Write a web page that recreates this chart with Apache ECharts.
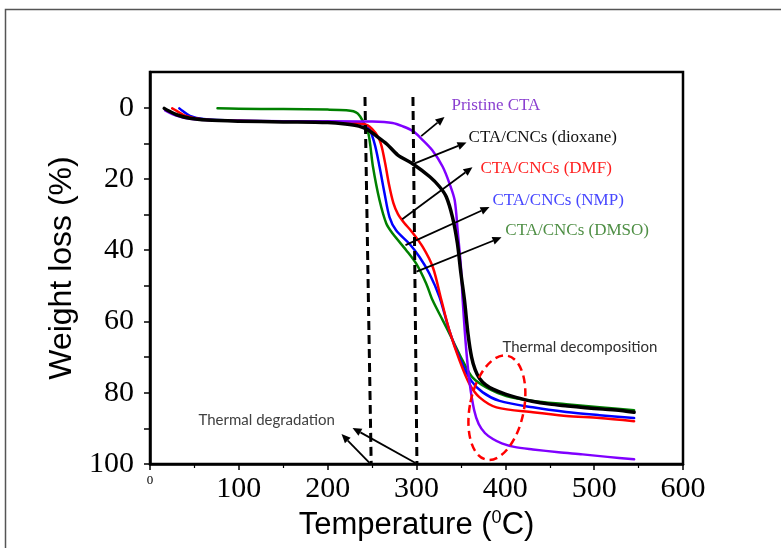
<!DOCTYPE html>
<html><head><meta charset="utf-8">
<script src="https://cdn.jsdelivr.net/npm/echarts@6/dist/echarts.min.js"></script>
<style>html,body{margin:0;padding:0;background:#fff}#c{width:781px;height:548px}</style>
</head><body><div id="c"></div>
<script>
// ---- data (temperature in °C, weight loss in %) ----
const xTickValues = [0, 100, 200, 300, 400, 500, 600];
const yTickValues = [0, 20, 40, 60, 80, 100];

const pristineT = [17, 25, 40, 63, 100, 150, 200, 250, 273, 285, 296, 305, 318, 329.5, 337, 343, 346.5, 350, 352, 356, 360, 365, 370, 377, 386, 396, 410, 431, 460, 487, 515, 545];
const pristineW = [0.8, 1.8, 2.9, 3.5, 3.7, 3.8, 3.8, 3.9, 4.3, 5.3, 6.6, 8.6, 12, 16.6, 21.2, 26, 35, 44.7, 54, 68, 77.6, 85, 88.8, 91.3, 93, 94.2, 95.2, 95.9, 96.7, 97.3, 98.0, 98.7];

const dioxaneT = [16, 20, 30, 45, 64, 100, 150, 200, 220, 235, 245, 255, 266.5, 279, 296, 315, 326, 333.5, 340.5, 346, 350, 354, 358, 362, 366, 371, 378, 386, 400, 412, 430, 450, 470, 490, 510, 530, 545];
const dioxaneW = [0.2, 0.8, 2.0, 3.0, 3.5, 3.8, 4.0, 4.2, 4.6, 5.2, 6.2, 8.0, 10.2, 13.3, 15.8, 19.4, 22.2, 25, 30.7, 38, 46.5, 54, 63.5, 70, 73.5, 76, 77.8, 79, 80.4, 81.3, 82.4, 83.2, 83.7, 84.2, 84.6, 85.0, 85.5];

const dmfT = [25, 30, 40, 60, 100, 150, 200, 235, 247, 258.4, 264, 269, 274, 279, 286, 294, 307, 318.4, 328, 337, 348.5, 359.7, 371, 390, 431, 468.5, 506, 545];
const dmfW = [0.2, 0.9, 2.3, 3.3, 3.7, 3.9, 4.0, 4.4, 5.3, 9.1, 14.7, 21.5, 26.8, 29.8, 32.3, 34.6, 39.1, 44.8, 54, 62.5, 71, 77.6, 81.3, 84.1, 85.5, 86.5, 87.1, 88];

const nmpT = [33, 36, 45, 60, 100, 150, 200, 230, 245, 252.7, 258.4, 264, 269.6, 277, 292, 303.4, 314.6, 326, 337, 348, 361.5, 374.6, 393.5, 431, 468.5, 506, 545];
const nmpW = [0.2, 0.8, 2.3, 3.2, 3.7, 3.9, 4.0, 4.3, 5.3, 10, 16.6, 24, 30.7, 34.4, 38.2, 41.9, 46.6, 53.2, 62.6, 70, 76.6, 79.9, 82.3, 84.1, 85.4, 86.3, 87.1];

const dmsoT = [76, 100, 150, 200, 221, 229, 234, 239, 245.8, 251, 258.4, 266, 273.4, 288.4, 299.7, 311, 318, 329.6, 341, 352, 363, 378.5, 401, 431, 468.5, 506, 545];
const dmsoW = [0.2, 0.3, 0.4, 0.55, 0.7, 1.0, 1.7, 3.5, 7.2, 16.6, 26, 32.5, 35.4, 40, 43.8, 49.4, 54, 59.7, 65.4, 71, 75.7, 78.5, 80.9, 82.3, 83.2, 84.1, 84.9];

const degradLine1T = [242, 249];
const degradLine1W = [-3, 100];
const degradLine2T = [296, 300.5];
const degradLine2W = [-3, 100];

// ---- build ----
const zip = (a, b) => a.map((v, i) => [v, b[i]]);
const chart = echarts.init(document.getElementById('c'), null, {renderer: 'canvas'});

function curve(name, T, W, color, width) {
  return {
    name, type: 'line', data: zip(T, W), showSymbol: false, symbol: 'none',
    smooth: 0.3, silent: true,
    lineStyle: {color, width, join: 'round', cap: 'round'}, z: 3
  };
}
function dashed(T, W) {
  return {
    type: 'line', data: zip(T, W), showSymbol: false, symbol: 'none', silent: true,
    lineStyle: {color: '#000', width: 3, type: [9, 5]}, z: 5
  };
}

const option = {
  animation: false,
  backgroundColor: '#fff',
  grid: {left: 150, right: 98, top: 72, bottom: 84, show: true, borderColor: '#000', borderWidth: 2.5, containLabel: false},
  xAxis: {
    type: 'value', min: 0, max: 600, interval: 100,
    axisLine: {show: true, onZero: false, lineStyle: {color: '#000', width: 2.5}},
    axisTick: {show: true, inside: false, length: 6, lineStyle: {color: '#000', width: 1.5}},
    minorTick: {show: true, splitNumber: 2, length: 4, lineStyle: {color: '#000', width: 1.2}},
    splitLine: {show: false},
    axisLabel: {
      margin: 10, color: '#000', fontFamily: 'Liberation Serif', fontSize: 30,
      formatter: v => v === 0 ? '{s|0}' : String(v),
      rich: {s: {fontSize: 13, fontFamily: 'Liberation Serif', color: '#000'}}
    },
    name: '{a|Temperature (}{sup|0}{a|C)}', nameLocation: 'middle', nameGap: 44,
    nameTextStyle: {
      rich: {
        a: {fontFamily: 'Liberation Sans', fontSize: 31, color: '#000'},
        sup: {fontFamily: 'Liberation Sans', fontSize: 18, color: '#000', padding: [0, 0, 16, 0]}
      }
    }
  },
  yAxis: {
    type: 'value', inverse: true, min: -10, max: 100,
    axisLine: {show: true, onZero: false, lineStyle: {color: '#000', width: 2.5}},
    axisTick: {show: true, inside: false, length: 6, lineStyle: {color: '#000', width: 1.5},
      customValues: [0, 10, 20, 30, 40, 50, 60, 70, 80, 90, 100]},
    splitLine: {show: false},
    axisLabel: {margin: 16, color: '#000', fontFamily: 'Liberation Serif', fontSize: 30, customValues: yTickValues},
    name: 'Weight loss (%)', nameLocation: 'middle', nameGap: 66,
    nameTextStyle: {fontFamily: 'Liberation Sans', fontSize: 32, color: '#000'}
  },
  series: [
    curve('CTA/CNCs (DMSO)', dmsoT, dmsoW, '#008000', 2.5),
    curve('CTA/CNCs (NMP)', nmpT, nmpW, '#0000ff', 2.5),
    curve('CTA/CNCs (DMF)', dmfT, dmfW, '#ff0000', 2.5),
    curve('Pristine CTA', pristineT, pristineW, '#8000ff', 2.5),
    curve('CTA/CNCs (dioxane)', dioxaneT, dioxaneW, '#000000', 3.5),
    dashed(degradLine1T, degradLine1W),
    dashed(degradLine2T, degradLine2W)
  ]
};
chart.setOption(option);

// ---- annotations (positioned in data coordinates) ----
const labelDefs = [
  {text: 'Pristine CTA', at: [339.4, -0.5], color: '#8a3fd0', font: '17px "Liberation Serif"'},
  {text: 'CTA/CNCs (dioxane)', at: [358.6, 8.5], color: '#111', font: '17px "Liberation Serif"'},
  {text: 'CTA/CNCs (DMF)', at: [372, 17], color: '#ff2020', font: '17px "Liberation Serif"'},
  {text: 'CTA/CNCs (NMP)', at: [385.5, 26], color: '#4747ff', font: '17px "Liberation Serif"'},
  {text: 'CTA/CNCs (DMSO)', at: [400, 34.4], color: '#4f8f45', font: '17px "Liberation Serif"'},
  {text: 'Thermal degradation', at: [54.6, 87.6], color: '#404040', font: '15px Lato'},
  {text: 'Thermal decomposition', at: [396.8, 67.1], color: '#303030', font: '15px Lato'}
];
const arrowDefs = [
  [[305.3, 8.0], [331.5, 2.6]],
  [[296.6, 15.8], [356.3, 9.8]],
  [[283.9, 31.3], [363, 16.7]],
  [[287.6, 38.6], [382.2, 27.9]],
  [[300, 46], [395.7, 36.4]],
  [[247.1, 99.7], [215.6, 91.6]],
  [[298.9, 99.7], [228, 89.9]]
];
const ellipseDef = {center: [390.5, 84.2], rx: 27, ry: 53, rotation: -0.2};

const toPx = p => chart.convertToPixel({gridIndex: 0}, p);
const graphics = [];
// outer frame
graphics.push({type: 'polyline', shape: {points: [[5.5, 548], [5.5, 9.5], [781, 9.5]]}, style: {stroke: '#555', lineWidth: 1.5, fill: null}, silent: true});
labelDefs.forEach(d => {
  const p = toPx(d.at);
  graphics.push({type: 'text', x: p[0], y: p[1], silent: true, z: 10,
    style: {text: d.text, fill: d.color, font: d.font, textAlign: 'left', textVerticalAlign: 'middle'}});
});
arrowDefs.forEach(([a, b]) => {
  const p0 = toPx(a), p1 = toPx(b);
  const dx = p1[0] - p0[0], dy = p1[1] - p0[1];
  const L = Math.hypot(dx, dy), ux = dx / L, uy = dy / L;
  const hl = 9, hw = 4;
  const base = [p1[0] - ux * hl, p1[1] - uy * hl];
  graphics.push({type: 'line', silent: true, z: 10,
    shape: {x1: p0[0], y1: p0[1], x2: base[0], y2: base[1]}, style: {stroke: '#000', lineWidth: 1.8}});
  graphics.push({type: 'polygon', silent: true, z: 10,
    shape: {points: [p1, [base[0] - uy * hw, base[1] + ux * hw], [base[0] + uy * hw, base[1] - ux * hw]]},
    style: {fill: '#000'}});
});
{
  const c = toPx(ellipseDef.center);
  graphics.push({type: 'ellipse', silent: true, z: 10, x: c[0], y: c[1], rotation: ellipseDef.rotation,
    shape: {cx: 0, cy: 0, rx: ellipseDef.rx, ry: ellipseDef.ry},
    style: {fill: null, stroke: '#ff0000', lineWidth: 2.5, lineDash: [8, 5]}});
}
chart.setOption({graphic: graphics});
</script>
</body></html>
